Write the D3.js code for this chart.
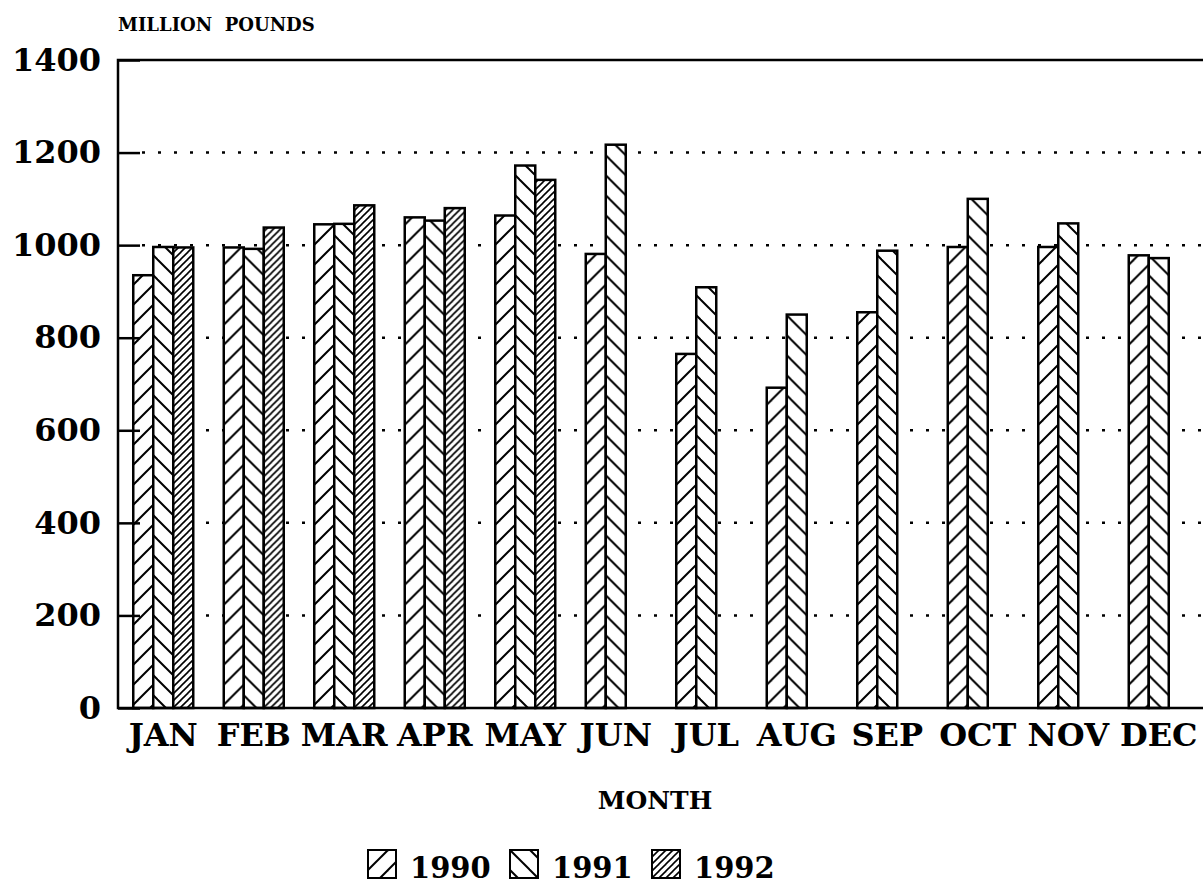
<!DOCTYPE html>
<html>
<head>
<meta charset="utf-8">
<script src="https://cdn.jsdelivr.net/npm/d3@7"></script>
<style>
  body { margin: 0; background: #fff; }
  svg text { font-family: "DejaVu Serif", "Liberation Serif", serif; font-weight: bold; fill: #000; }
</style>
</head>
<body>
<div class="chart"></div>
<script>
// Data
var months = ["JAN", "FEB", "MAR", "APR", "MAY", "JUN", "JUL", "AUG", "SEP", "OCT", "NOV", "DEC"];
var years = ["1990", "1991", "1992"];
var values1990 = [935, 995, 1045, 1060, 1064, 981, 765, 692, 855, 996, 996, 978];
var values1991 = [996, 992, 1046, 1053, 1172, 1217, 909, 850, 988, 1100, 1047, 972];
var values1992 = [995, 1038, 1086, 1080, 1141, null, null, null, null, null, null, null];
var yTicks = [0, 200, 400, 600, 800, 1000, 1200, 1400];

var svgWidth = 1203, svgHeight = 893;
var margin = { top: 60, left: 118, bottom: 185 };
var plotRight = 1204;
var plotBottom = svgHeight - margin.bottom; // 708

var svg = d3.select(".chart")
  .append("svg")
  .attr("width", svgWidth)
  .attr("height", svgHeight);

// hatch patterns
var defs = svg.append("defs");
function hatch(id, size, dir, sw) {
  var p = defs.append("pattern")
    .attr("id", id)
    .attr("patternUnits", "userSpaceOnUse")
    .attr("width", size)
    .attr("height", size);
  p.append("rect").attr("width", size).attr("height", size).attr("fill", "#fff");
  var segs = dir > 0
    ? [[0, size, size, 0], [-size, size, size, -size], [0, 2 * size, 2 * size, 0]]
    : [[0, 0, size, size], [-size, 0, size, 2 * size], [0, -size, 2 * size, size]];
  segs.forEach(function (s) {
    p.append("line")
      .attr("x1", s[0]).attr("y1", s[1]).attr("x2", s[2]).attr("y2", s[3])
      .attr("stroke", "#000").attr("stroke-width", sw);
  });
}
hatch("h1990", 20, 1, 2);
hatch("h1991", 20, -1, 2);
hatch("h1992", 7, 1, 1.6);
var fills = { "1990": "url(#h1990)", "1991": "url(#h1991)", "1992": "url(#h1992)" };

// scales
var x = d3.scaleBand().domain(months).range([margin.left, plotRight]).padding(0);
var x1 = d3.scaleBand().domain(years)
  .range([x.bandwidth() / 2 - 30, x.bandwidth() / 2 + 30]);
var y = d3.scaleLinear().domain([0, 1400]).range([plotBottom, margin.top]);

// dotted grid lines
svg.append("g").selectAll("line")
  .data(yTicks.filter(function (d) { return d > 0 && d < 1400; }))
  .enter().append("line")
  .attr("x1", margin.left + 24).attr("x2", plotRight)
  .attr("y1", function (d) { return y(d); })
  .attr("y2", function (d) { return y(d); })
  .attr("stroke", "#000")
  .attr("stroke-width", 2.5)
  .attr("stroke-dasharray", "3,13");

// bars
var rows = months.map(function (m, i) {
  return { month: m, vals: [
    { year: "1990", v: values1990[i] },
    { year: "1991", v: values1991[i] },
    { year: "1992", v: values1992[i] }
  ].filter(function (d) { return d.v != null; }) };
});

var groups = svg.append("g").selectAll("g")
  .data(rows)
  .enter().append("g")
  .attr("transform", function (d) { return "translate(" + x(d.month) + ",0)"; });

groups.selectAll("rect")
  .data(function (d) { return d.vals; })
  .enter().append("rect")
  .attr("x", function (d) { return x1(d.year); })
  .attr("width", x1.bandwidth())
  .attr("y", function (d) { return y(d.v); })
  .attr("height", function (d) { return y(0) - y(d.v); })
  .attr("fill", function (d) { return fills[d.year]; })
  .attr("stroke", "#000")
  .attr("stroke-width", 2.5);

// axes
var leftAxis = d3.axisLeft(y).tickValues(yTicks).tickFormat(d3.format("d"))
  .tickSizeInner(-22).tickSizeOuter(0).tickPadding(17);
var gy = svg.append("g")
  .attr("transform", "translate(" + margin.left + ",0)")
  .call(leftAxis);
gy.select(".domain").remove();
gy.selectAll("line").attr("stroke", "#000").attr("stroke-width", 2.5);
gy.selectAll("text").attr("font-size", 32).attr("font-family", null);

var bottomAxis = d3.axisBottom(x).tickSize(0).tickPadding(15);
var gx = svg.append("g")
  .attr("transform", "translate(0," + plotBottom + ")")
  .call(bottomAxis);
gx.select(".domain").remove();
gx.selectAll("text").attr("font-size", 32).attr("font-family", null);

// frame: top, left, bottom
svg.append("path")
  .attr("d", "M" + plotRight + "," + y(1400) + "H" + margin.left + "V" + y(0) + "H" + plotRight)
  .attr("fill", "none")
  .attr("stroke", "#000")
  .attr("stroke-width", 2.5);

// titles
svg.append("text")
  .attr("x", margin.left)
  .attr("y", 31)
  .attr("font-size", 18)
  .style("white-space", "pre")
  .text("MILLION  POUNDS");

svg.append("text")
  .attr("x", 655)
  .attr("y", 809)
  .attr("text-anchor", "middle")
  .attr("font-size", 25)
  .text("MONTH");

// legend
var legendX = [368, 510, 652];
var legend = svg.append("g").selectAll("g")
  .data(years)
  .enter().append("g")
  .attr("transform", function (d, i) { return "translate(" + legendX[i] + ",850)"; });
legend.append("rect")
  .attr("width", 28).attr("height", 28)
  .attr("fill", function (d) { return fills[d]; })
  .attr("stroke", "#000").attr("stroke-width", 2);
legend.append("text")
  .attr("x", 42)
  .attr("y", 28)
  .attr("font-size", 29)
  .text(function (d) { return d; });
</script>
</body>
</html>
